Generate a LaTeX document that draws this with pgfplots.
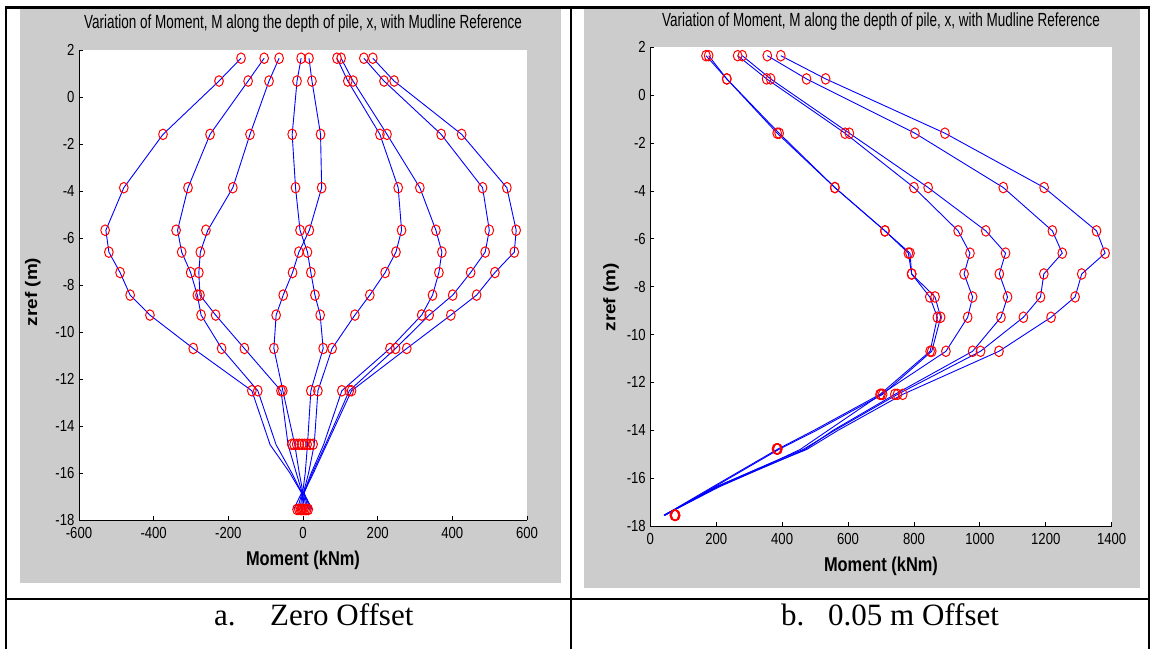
\documentclass[border=0pt]{standalone}
\usepackage{pgfplots}
\pgfplotsset{compat=1.18}
\usepackage{pgfplotstable}
\usepackage{fontspec}
\setmainfont{Liberation Serif}
\newfontfamily\arial{Liberation Sans}
\definecolor{mgray}{RGB}{204,204,204}
\definecolor{mblue}{RGB}{0,0,255}
\definecolor{mred}{RGB}{255,0,0}

% ---- Zero offset: line data ----
\pgfplotstableread{
z      L1    L2    L3    M1   M2   P4   P3   P2   P1
1.65   -166  -104  -64   -5   16   91   102  163  187
0.68   -225  -147  -91   -16  24   120  134  217  244
-1.59  -375  -249  -142  -29  47   206  225  370  425
-3.86  -480  -308  -188  -20  50   255  313  481  546
-5.67  -528  -336  -255  -8   17   264  356  499  571
-6.6   -520  -325  -275  12   -11  249  372  488  566
-7.47  -490  -301  -279  21   -28  220  364  449  514
-8.43  -463  -283  -276  32   -53  179  347  401  465
-9.28  -410  -273  -234  46   -72  139  318  338  396
-10.7  -294  -218  -157  54   -78  78   233  248  278
-12.5  -137  -121  -59   21   -54  40   104  124  130
-14.8  -88   -72   -40   12   -22  30   55   60   63
-16.0  -35   -30   -18   6    -10  15   22   25   28
-16.85 -4    -3    -2    -1   0    1    2    3    2
-17.55 -25   -15   -8    -3   3    9    15   20   25
}\leftlines
% ---- Zero offset: marker data ----
\pgfplotstableread{
z      L1    L2    L3    M1   M2   P4   P3   P2   P1
1.65   -166  -104  -64   -5   16   91   102  163  187
0.68   -225  -147  -91   -16  24   120  134  217  244
-1.59  -375  -249  -142  -29  47   206  225  370  425
-3.86  -480  -308  -188  -20  50   255  313  481  546
-5.67  -530  -340  -260  -8   17   264  356  499  571
-6.6   -520  -325  -275  12   -11  249  372  488  566
-7.47  -490  -301  -279  21   -28  220  364  449  514
-8.43  -463  -283  -276  32   -53  179  347  401  465
-9.28  -410  -273  -234  46   -72  139  318  338  396
-10.7  -294  -218  -157  54   -78  78   233  248  278
-12.5  -137  -121  -59   21   -54  40   104  124  130
-14.78 -30   -24   -17   -3   -10  4    11   19   27
-17.55 -16   -11   -7    -1   -4   2    6    10   14
}\leftmarks
% ---- 0.05 m offset: line data ----
\pgfplotstableread{
z      R1   R2   R3   R4   R5   R6
1.65   169  177  265  279  355  396
0.68   232  232  353  365  474  532
-1.59  385  391  591  604  803  894
-3.86  560  560  800  843  1071 1195
-5.67  712  712  934  1018 1220 1354
-6.6   783  788  970  1078 1250 1380
-7.47  793  793  952  1059 1194 1309
-8.43  848  864  978  1084 1184 1289
-9.28  871  881  963  1064 1132 1216
-10.7  849  854  897  978  1002 1058
-12.5  697  705  700  742  750  766
-14.0  497  505  540  555  560  570
-14.8  385  390  455  470  464  475
-15.4  310  315  363  370  360  368
-16.36 190  195  201  205  200  210
-17.55 42   45   41   43   44   42
}\rightlines
% ---- 0.05 m offset: marker data ----
\pgfplotstableread{
z      R1   R2   R3   R4   R5   R6
1.65   169  177  265  279  355  396
0.68   232  232  353  365  474  532
-1.59  385  391  591  604  803  894
-3.86  560  560  800  843  1071 1195
-5.67  712  712  934  1018 1220 1354
-6.6   783  788  970  1078 1250 1380
-7.47  793  793  952  1059 1194 1309
-8.43  848  864  978  1084 1184 1289
-9.28  871  881  963  1064 1132 1216
-10.7  849  854  897  978  1002 1058
-12.5  697  705  700  742  750  766
-14.78 383  386  385  384  387  385
-17.55 74   76   73   77   75   76
}\rightmarks

\pgfplotsset{
  mstyle/.style={
    scale only axis, anchor=south west,
    axis x line=bottom, axis y line=left,
    every outer x axis line/.append style={-},
    every outer y axis line/.append style={-},
    axis line style={-, black, line width=0.9pt},
    axis background/.style={fill=white},
    tick align=inside, major tick length=4pt,
    tick style={black, line width=0.8pt},
    ymin=-18, ymax=2, ytick={-18,-16,...,2},
    /pgf/number format/assume math mode=true,
    /pgf/number format/1000 sep={},
    ticklabel style={font=\arial\fontsize{16}{16}\selectfont, xscale=0.82},
    xticklabel style={yshift=-4pt},
    yticklabel style={xshift=-2pt},
    title style={font=\arial\fontsize{19}{19}\selectfont, xscale=0.71, anchor=base},
    xlabel style={font=\arial\bfseries\fontsize{20}{20}\selectfont, xscale=0.82, anchor=base},
    ylabel style={font=\arial\bfseries\fontsize{19}{19}\selectfont, anchor=center, yscale=0.88},
    title={Variation of Moment, M along the depth of pile, x, with Mudline Reference},
    xlabel={Moment (kNm)}, ylabel={zref (m)},
  },
  cline/.style={mblue, line width=0.9pt, mark=none},
  cmark/.style={only marks, mark=o, mark size=5.3pt, mark options={mred, line width=1pt, xscale=0.82}},
}

\begin{document}
\begin{tikzpicture}
\useasboundingbox (0pt,0pt) rectangle (1152pt,649pt);
% grey figure panels
\fill[mgray] (20pt,66pt) rectangle (561pt,640pt);
\fill[mgray] (584pt,61pt) rectangle (1140pt,640pt);

% ---- a. Zero offset ----
\begin{axis}[mstyle,
  at={(79pt,129pt)}, width=448pt, height=470pt,
  xmin=-600, xmax=600, xtick={-600,-400,...,600},
  title style={at={(axis description cs:0.5,1.032)}},
  xlabel style={at={(axis description cs:0.5,-0.096)}},
  ylabel style={at={(axis description cs:-0.103,0.485)}},
]
\pgfplotsinvokeforeach{L1,L2,L3,M1,M2,P4,P3,P2,P1}{
  \addplot[cline] table[x=#1,y=z]{\leftlines};
}
\pgfplotsinvokeforeach{L1,L2,L3,M1,M2,P4,P3,P2,P1}{
  \addplot[cmark] table[x=#1,y=z]{\leftmarks};
}
\end{axis}

% ---- b. 0.05 m offset ----
\begin{axis}[mstyle,
  at={(650.3pt,123pt)}, width=461.4pt, height=478.7pt,
  xmin=0, xmax=1400, xtick={0,200,...,1400},
  title style={at={(axis description cs:0.5,1.031)}},
  xlabel style={at={(axis description cs:0.5,-0.096)}},
  ylabel style={at={(axis description cs:-0.085,0.478)}},
]
\pgfplotsinvokeforeach{R1,R2,R3,R4,R5,R6}{
  \addplot[cline] table[x=#1,y=z]{\rightlines};
}
\pgfplotsinvokeforeach{R1,R2,R3,R4,R5,R6}{
  \addplot[cmark] table[x=#1,y=z]{\rightmarks};
}
\end{axis}

% table rules
\draw[line width=2.2pt] (6pt,0pt) -- (6pt,641.5pt) -- (1149pt,641.5pt) -- (1149pt,0pt);
\draw[line width=2.2pt] (571pt,0pt) -- (571pt,641.5pt);
\draw[line width=2.2pt] (6pt,50pt) -- (1149pt,50pt);

% captions
\node[anchor=base west, inner sep=0pt, font=\fontsize{31}{31}\selectfont] at (214pt,24pt) {a.};
\node[anchor=base west, inner sep=0pt, font=\fontsize{31}{31}\selectfont] at (270pt,24pt) {Zero Offset};
\node[anchor=base west, inner sep=0pt, font=\fontsize{31}{31}\selectfont] at (781pt,24pt) {b.};
\node[anchor=base west, inner sep=0pt, font=\fontsize{31}{31}\selectfont] at (828pt,24pt) {0.05 m Offset};
\end{tikzpicture}
\end{document}
